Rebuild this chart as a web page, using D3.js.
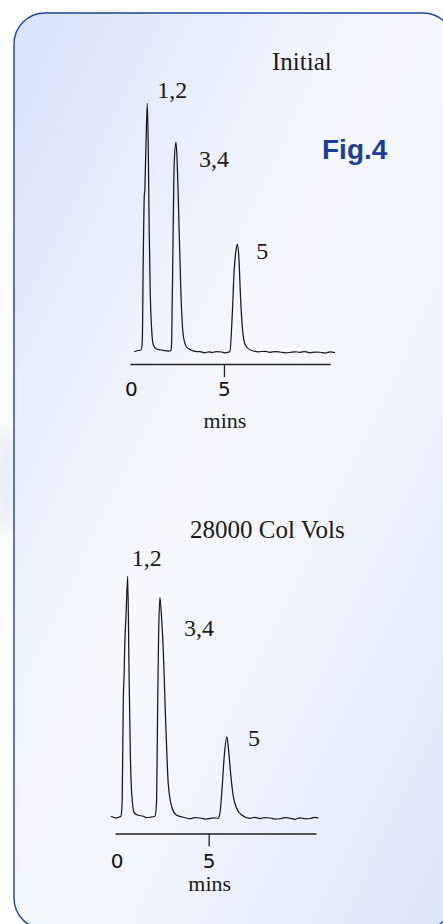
<!DOCTYPE html>
<html>
<head>
<meta charset="utf-8">
<script src="https://cdn.jsdelivr.net/npm/d3@7"></script>
<style>
  body { margin: 0; background: #fff; }
  svg { display: block; }
</style>
</head>
<body>
<div id="graph"></div>
<script>
// chromatogram 1 : initial column (time in mins, detector response)
var timeInitial = [0.18,0.38,0.54,0.61,0.66,0.72,0.75,0.76,0.81,0.88,0.93,0.98,1.04,1.11,1.20,1.38,1.65,2.01,2.15,2.19,2.27,2.33,2.42,2.47,2.54,2.69,2.81,2.99,3.23,3.53,3.71,3.95,4.20,4.35,4.60,4.89,5.05,5.22,5.32,5.45,5.55,5.65,5.72,5.80,5.89,6.00,6.15,6.42,6.85,7.20,7.47,7.75,8.01,8.30,8.55,8.80,9.09,9.35,9.62,9.90,10.16,10.45,10.70,10.97];
var signalInitial = [0.1,0.6,0.8,4.1,36.1,62.8,64.8,68.4,82.8,99.5,82.8,49.6,22.8,9.6,2.8,1.2,0.8,0.4,0.6,4.1,49.6,76.1,83.9,78.8,62.8,22.8,6.8,2.0,0.8,0.2,0.2,-0.3,0.1,-0.2,0.2,0,-0.3,-0.1,0.2,15.5,32.8,40.8,43.2,38.1,22.1,8.8,2.8,0.8,0.1,0.3,-0.1,0.2,0,-0.3,-0.2,0.1,-0.1,0.2,-0.3,0,-0.1,-0.4,0.1,-0.2];

// chromatogram 2 : after 28000 column volumes
var timeAged = [-0.31,-0.15,0.00,0.13,0.23,0.30,0.36,0.41,0.43,0.52,0.60,0.67,0.74,0.82,0.96,1.17,1.45,1.59,1.81,2.08,2.17,2.23,2.28,2.35,2.43,2.50,2.68,2.80,2.99,3.26,3.62,3.98,4.25,4.53,4.80,5.07,5.30,5.51,5.61,5.74,5.85,5.99,6.09,6.20,6.34,6.52,6.79,7.24,7.50,7.79,8.05,8.33,8.60,8.88,9.15,9.42,9.70,9.96,10.25,10.51,10.75,10.96];
var signalAged = [0.7,0.2,0,0.4,0.7,6.7,46.8,58.8,66.0,83.2,96.7,60.0,26.8,9.3,2.0,1.1,0.7,0.2,0.3,0.7,6.7,46.8,73.3,88.2,81.2,72.5,35.2,14.0,4.5,1.1,0.3,-0.3,0.2,0,-0.4,-0.2,0.1,-0.1,1.9,13.2,25.2,32.5,26.5,17.2,8.5,3.9,1.2,-0.1,0.3,-0.2,0.2,0,-0.4,-0.3,0.2,-0.1,-0.5,0.1,-0.3,-0.2,0.3,0];

var peakLabels = ["1,2", "3,4", "5"];
var peakTimesInitial = [0.88, 2.42, 5.72];
var peakTimesAged = [0.60, 2.35, 5.99];
var tickValues = [0, 5];
var titles = ["Initial", "28000 Col Vols"];
var figLabel = "Fig.4";
var axisLabel = "mins";

var W = 443, H = 924;
var serif = "'Liberation Serif', 'Times New Roman', serif";
var sans = "'Liberation Sans', Arial, sans-serif";

var svg = d3.select("#graph")
  .append("svg")
    .attr("width", W)
    .attr("height", H)

var defs = svg.append("defs")

var grad = defs.append("linearGradient")
    .attr("id", "panelGrad")
    .attr("x1", 0).attr("y1", 0)
    .attr("x2", 1).attr("y2", 1)
grad.append("stop").attr("offset", 0).attr("stop-color", "#d8e3fa")
grad.append("stop").attr("offset", 0.45).attr("stop-color", "#f6f8fe")
grad.append("stop").attr("offset", 0.62).attr("stop-color", "#f2f5fe")
grad.append("stop").attr("offset", 1).attr("stop-color", "#dce6fa")

defs.append("filter")
    .attr("id", "blur")
  .append("feGaussianBlur")
    .attr("stdDeviation", 8)

// faint blue streaks outside the panel on the left
svg.append("ellipse")
    .attr("cx", 6).attr("cy", 480)
    .attr("rx", 12).attr("ry", 55)
    .style("fill", "#d3dff3")
    .style("opacity", 0.6)
    .attr("filter", "url(#blur)")

// the rounded panel
svg.append("rect")
    .attr("x", 14).attr("y", 13)
    .attr("width", 440).attr("height", 916)
    .attr("rx", 31).attr("ry", 31)
    .style("fill", "url(#panelGrad)")
    .style("stroke", "#1d439d")
    .style("stroke-width", 1.4)

svg.append("text")
    .attr("x", 322).attr("y", 159)
    .style("font-family", sans)
    .style("font-weight", "bold")
    .style("font-size", "28px")
    .style("fill", "#1b3f98")
    .text(figLabel)

// layout of the two chromatograms
var charts = [
  { time: timeInitial, signal: signalInitial, peaks: peakTimesInitial, title: titles[0],
    xDomain: [-0.05, 10.7], xRange: [130, 330], yRange: [352, 102], axisY: 364,
    tickPad: 5, titleX: 272, titleY: 70, minsY: 428,
    offsets: [[10, -5], [23, 25], [19, 15]] },
  { time: timeAged, signal: signalAged, peaks: peakTimesAged, title: titles[1],
    xDomain: [-0.09, 10.83], xRange: [115, 316], yRange: [818, 568], axisY: 833.5,
    tickPad: 7, titleX: 190, titleY: 538, minsY: 891,
    offsets: [[4, -10], [24, 38], [21, 9]] }
];

charts.forEach(function(c) {
  var x = d3.scaleLinear().domain(c.xDomain).range(c.xRange)
  var y = d3.scaleLinear().domain([0, 100]).range(c.yRange)
  var pts = d3.zip(c.time, c.signal)

  var g = svg.append("g")

  // trace
  g.append("path")
      .datum(pts)
      .attr("d", d3.line()
        .x(function(d) { return x(d[0]) })
        .y(function(d) { return y(d[1]) })
        .curve(d3.curveMonotoneX)
      )
      .style("fill", "none")
      .style("stroke", "#161616")
      .style("stroke-width", 1.25)
      .style("stroke-linejoin", "round")

  // peak labels, placed off each apex
  c.peaks.forEach(function(t, i) {
    var k = d3.minIndex(c.time, function(v) { return Math.abs(v - t) })
    g.append("text")
        .attr("x", x(t) + c.offsets[i][0])
        .attr("y", y(c.signal[k]) + c.offsets[i][1])
        .style("font-family", serif)
        .style("font-size", "24px")
        .style("fill", "#1a1a1a")
        .text(peakLabels[i])
  })

  // time axis: tick mark only at 5
  var ax = g.append("g")
      .attr("transform", "translate(0," + c.axisY + ")")
      .call(d3.axisBottom(x).tickValues(tickValues).tickSize(13).tickSizeOuter(0).tickPadding(c.tickPad)
        .tickFormat(d3.format("d")))
  ax.select(".domain").style("stroke", "#222").style("stroke-width", 1.3)
  ax.selectAll(".tick line").style("stroke", "#222").style("stroke-width", 1.3)
  ax.selectAll(".tick").filter(function(d) { return d === 0 }).select("line").remove()
  ax.selectAll(".tick text")
      .style("font-family", "'DejaVu Sans', sans-serif")
      .style("font-size", "20px")
      .style("fill", "#111")

  g.append("text")
      .attr("x", x(5) + 1).attr("y", c.minsY)
      .attr("text-anchor", "middle")
      .style("font-family", serif)
      .style("font-size", "22px")
      .style("fill", "#1a1a1a")
      .text(axisLabel)

  g.append("text")
      .attr("x", c.titleX).attr("y", c.titleY)
      .style("font-family", serif)
      .style("font-size", "25px")
      .style("fill", "#1a1a1a")
      .text(c.title)
})
</script>
</body>
</html>
